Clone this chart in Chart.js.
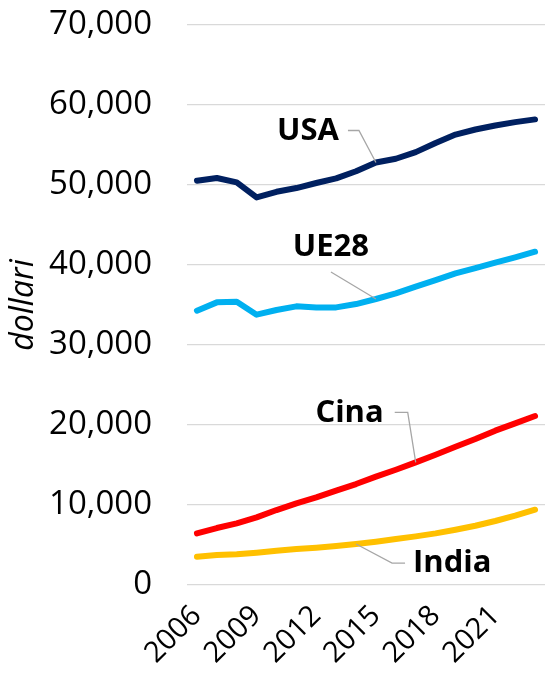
<!DOCTYPE html>
<html>
<head>
<meta charset="utf-8">
<script src="https://cdn.jsdelivr.net/npm/chart.js@4"></script>
<style>
  html, body { margin: 0; padding: 0; background: #fff; }
  #wrap { width: 545px; height: 681px; }
</style>
</head>
<body>
<div id="wrap"><canvas id="grafico" width="545" height="681"></canvas></div>
<script>
// anni e valori (dollari pro capite)
const anni = ['2006','2007','2008','2009','2010','2011','2012','2013','2014','2015','2016','2017','2018','2019','2020','2021','2022','2023'];
const usa   = [50540, 50880, 50330, 48440, 49150, 49620, 50250, 50830, 51720, 52810, 53280, 54110, 55250, 56300, 56940, 57440, 57860, 58200];
const ue28  = [34290, 35330, 35410, 33790, 34370, 34830, 34700, 34700, 35120, 35750, 36450, 37290, 38120, 38950, 39620, 40290, 40950, 41660];
const cina  = [6450, 7120, 7700, 8450, 9370, 10200, 10950, 11790, 12620, 13540, 14410, 15330, 16290, 17290, 18250, 19290, 20200, 21120];
const india = [3540, 3750, 3830, 4040, 4290, 4500, 4660, 4870, 5120, 5410, 5750, 6080, 6450, 6910, 7410, 8000, 8660, 9410];
const anniMostrati = ['2006','2009','2012','2015','2018','2021'];
const yMax = 70000;
const yPasso = 10000;

const FONT = "'Open Sans', 'Noto Sans', sans-serif";

// etichette delle serie con linea di richiamo, ancorate a un punto della serie
const etichette = [
  { serie: 0, testo: 'USA',   punto: 9,  linea: [[-17,-32],[-28,-32]], tx: -37, ty: -31, align: 'right' },
  { serie: 1, testo: 'UE28',  punto: 9,  linea: [[-45,-27]],           tx: -45, ty: -52, align: 'center' },
  { serie: 2, testo: 'Cina',  punto: 11, linea: [[-8,-50],[-21,-50]],  tx: -32, ty: -49, align: 'right' },
  { serie: 3, testo: 'India', punto: 8,  linea: [[36,19],[49,19]],     tx: 57,  ty: 19,  align: 'left' }
];

const pluginEtichette = {
  id: 'etichette',
  afterDatasetsDraw(chart) {
    const ctx = chart.ctx;
    const sx = chart.scales.x, sy = chart.scales.y;
    ctx.save();
    etichette.forEach(e => {
      const v = chart.data.datasets[e.serie].data[e.punto];
      const px = sx.getPixelForValue(e.punto);
      const py = sy.getPixelForValue(v);
      ctx.strokeStyle = '#a6a6a6';
      ctx.lineWidth = 1.3;
      ctx.beginPath();
      ctx.moveTo(px, py);
      e.linea.forEach(p => ctx.lineTo(px + p[0], py + p[1]));
      ctx.stroke();
      ctx.fillStyle = '#000';
      ctx.font = "bold 31px " + FONT;
      ctx.textAlign = e.align;
      ctx.textBaseline = 'middle';
      ctx.fillText(e.testo, px + e.tx, py + e.ty);
    });
    ctx.restore();
  }
};

function serie(nome, dati, colore) {
  return {
    label: nome,
    data: dati,
    borderColor: colore,
    backgroundColor: colore,
    borderWidth: 6,
    pointRadius: 0,
    tension: 0,
    borderCapStyle: 'round',
    borderJoinStyle: 'round',
    fill: false
  };
}

const grafico = new Chart(document.getElementById('grafico'), {
  type: 'line',
  data: {
    labels: anni,
    datasets: [
      serie('USA', usa, '#002060'),
      serie('UE28', ue28, '#00b0f0'),
      serie('Cina', cina, '#ff0000'),
      serie('India', india, '#ffc000')
    ]
  },
  options: {
    responsive: false,
    animation: false,
    layout: { padding: { top: 25, right: 0, left: 0, bottom: 0 } },
    plugins: {
      legend: { display: false },
      tooltip: { enabled: false }
    },
    scales: {
      x: {
        type: 'category',
        offset: true,
        grid: { display: false, drawTicks: false },
        border: { display: false },
        ticks: {
          autoSkip: false,
          minRotation: 45,
          maxRotation: 45,
          padding: 14,
          color: '#000',
          font: { family: FONT, size: 29 },
          callback: function(val) {
            const a = this.getLabelForValue(val);
            return anniMostrati.includes(a) ? a : null;
          }
        },
        afterFit: function(scale) { scale.height = 96; }
      },
      y: {
        min: 0,
        max: yMax,
        grid: { color: '#d9d9d9', lineWidth: 1.3, drawTicks: true, tickLength: 35, tickColor: 'rgba(0,0,0,0)' },
        border: { display: false },
        ticks: {
          stepSize: yPasso,
          padding: 0,
          color: '#000',
          font: { family: FONT, size: 33 },
          callback: v => v.toLocaleString('en-US')
        },
        title: {
          display: true,
          text: 'dollari',
          color: '#000',
          padding: { top: 5, bottom: 0 },
          font: { family: FONT, size: 32, style: 'italic' }
        },
        afterFit: function(scale) { scale.width = 187; }
      }
    }
  },
  plugins: [pluginEtichette]
});
</script>
</body>
</html>
